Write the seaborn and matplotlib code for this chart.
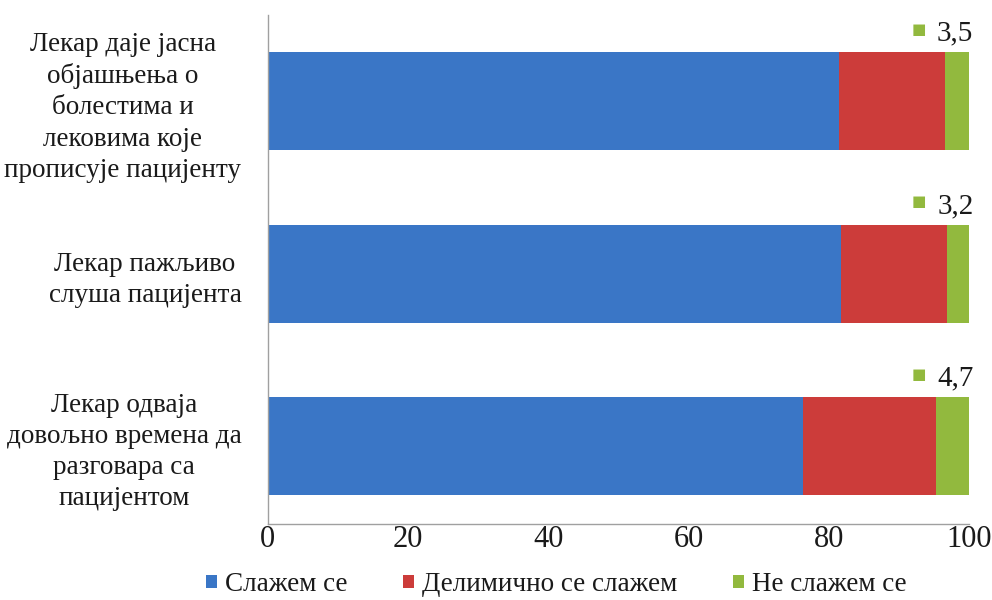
import matplotlib
matplotlib.use("Agg")
import matplotlib.pyplot as plt
import seaborn as sns
import pandas as pd
from matplotlib.patches import Patch

# Survey statements (Serbian Cyrillic) and answer shares in percent
statements = [
    "Лекар даје јасна\nобјашњења о\nболестима и\nлековима које\nпрописује пацијенту",
    "Лекар пажљиво\nслуша пацијента",
    "Лекар одваја\nдовољно времена да\nразговара са\nпацијентом",
]
agree = [81.5, 81.7, 76.3]
partly = [15.0, 15.1, 19.0]
disagree = [3.5, 3.2, 4.7]
series_names = ["Слажем се", "Делимично се слажем", "Не слажем се"]
xticks = [0, 20, 40, 60, 80, 100]

colors = ["#3a76c6", "#cc3c3a", "#92b93e"]

sns.set_theme(style="white")
plt.rcParams["font.family"] = ["Liberation Serif", "DejaVu Serif"]

df = pd.DataFrame({
    "statement": statements,
    "agree": agree,
    "partly": partly,
    "disagree": disagree,
})
df["cum_partly"] = df["agree"] + df["partly"]
df["cum_total"] = df["cum_partly"] + df["disagree"]

fig, ax = plt.subplots(figsize=(9.92, 6.0), dpi=100)
fig.subplots_adjust(left=0.27, right=0.977, top=0.975, bottom=0.127)

bar_w = 0.567
# stacked layers drawn back to front as cumulative totals
for col, c in [("cum_total", colors[2]), ("cum_partly", colors[1]), ("agree", colors[0])]:
    sns.barplot(data=df, y="statement", x=col, orient="h", color=c,
                width=bar_w, ax=ax, saturation=1, edgecolor="none", linewidth=0)

# value labels for the smallest share, with a small legend key
for i, v in enumerate(disagree):
    top = i - bar_w / 2
    ax.annotate(f"{v:.1f}".replace(".", ","), xy=(100, top), xycoords="data",
                xytext=(3, 13.5), textcoords="offset points",
                ha="right", va="center", fontsize=21, color="#1a1a1a")
    ax.annotate("■", xy=(100, top), xycoords="data",
                xytext=(-36, 16.5), textcoords="offset points",
                ha="center", va="center", fontsize=11, color=colors[2],
                family="DejaVu Sans")

ax.set_xlim(0, 100)
ax.set_ylim(2.45, -0.5)
ax.set_xticks(xticks)
ax.set_xticklabels([str(t) for t in xticks], fontsize=22, color="#1a1a1a")
ax.set_ylabel("")
ax.set_xlabel("")
ax.tick_params(axis="y", labelsize=19.5, length=0, pad=19, labelcolor="#1a1a1a")
ax.tick_params(axis="x", length=0, pad=1)
for lbl in ax.get_yticklabels():
    lbl.set_horizontalalignment("right")
    lbl.set_multialignment("center")
    lbl.set_linespacing(1.32)

for side in ["top", "right"]:
    ax.spines[side].set_visible(False)
for side in ["left", "bottom"]:
    ax.spines[side].set_color("#a0a0a0")
    ax.spines[side].set_linewidth(1.0)

handles = [Patch(facecolor=c, edgecolor="none") for c in colors]
leg = fig.legend(handles, series_names, loc="lower center", ncol=3, frameon=False,
                 fontsize=19.5, bbox_to_anchor=(0.561, -0.036), handlelength=0.4,
                 handleheight=0.4, handletextpad=0.3, columnspacing=2.05)
for t in leg.get_texts():
    t.set_color("#1a1a1a")

fig.savefig("out.png", dpi=100)
